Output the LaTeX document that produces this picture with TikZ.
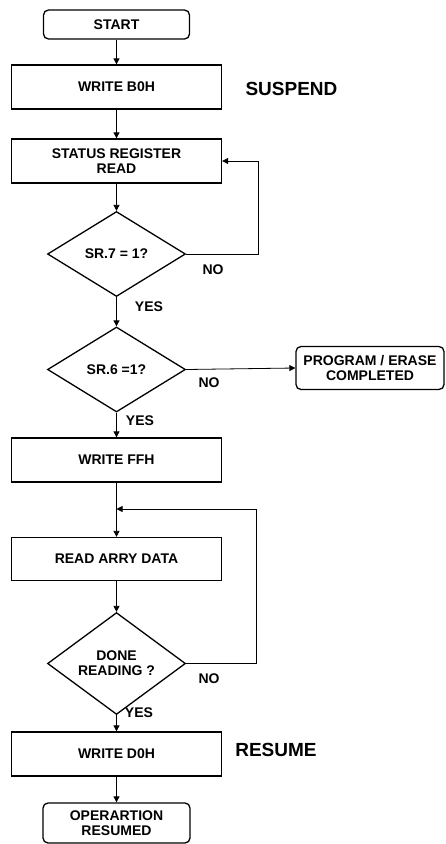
\documentclass[tikz,border=0pt]{standalone}
\usepackage{fontspec}
\setmainfont{Liberation Sans}
\usetikzlibrary{positioning}
\usetikzlibrary{arrows.meta}
\usetikzlibrary{shapes.geometric}

\begin{document}
\begin{tikzpicture}[x=1pt, y=-1pt,
    font=\fontsize{14}{15}\selectfont\bfseries,
    box/.style={draw, line width=1.3pt, minimum width=210pt, minimum height=44pt, align=center, inner sep=2pt},
    term/.style={draw, line width=1.3pt, rounded corners=5pt, align=center, inner sep=2pt},
    test/.style={draw, diamond, line width=1.3pt, minimum width=138pt, minimum height=85pt, inner sep=0pt, align=center},
    flow/.style={line width=0.8pt, -{Triangle[length=6pt, width=6pt]}},
    tag/.style={font=\fontsize{14}{15}\selectfont\bfseries},
    side/.style={font=\fontsize{19}{20}\selectfont\bfseries}]
    \useasboundingbox (0,0) rectangle (445,844);

    % main column
    \node[term, minimum width=146pt, minimum height=29pt] (start) at (116.5,24.5) {START};
    \node[box] (wb0) at (116.5,87) {WRITE B0H};
    \node[box] (status) at (116.5,161) {STATUS REGISTER\\READ};
    \node[test] (d1) at (116.5,254) {SR.7 = 1?};
    \node[test] (d2) at (116.5,369.5) {SR.6 =1?};
    \node[box] (wff) at (116.5,460) {WRITE FFH};
    \node[box, minimum height=43pt] (rad) at (116.5,559) {READ ARRY DATA};
    \node[test] (d3) at (116.5,663.5) {DONE\\READING ?};
    \node[box] (wd0) at (116.5,754) {WRITE D0H};
    \node[term, minimum width=147pt, minimum height=40pt] (resumed) at (116.5,823) {OPERARTION\\RESUMED};

    % side nodes
    \node[term, minimum width=148pt, minimum height=43pt] (pe) at (370,368) {PROGRAM / ERASE\\COMPLETED};
    \node[side] (suspend) at (291.5,89) {SUSPEND};
    \node[side] (resume) at (276,750) {RESUME};

    % branch labels
    \node[tag] (no1) at (213,270) {NO};
    \node[tag] (yes1) at (149,307) {YES};
    \node[tag] (no2) at (209,383) {NO};
    \node[tag] (yes2) at (140,421) {YES};
    \node[tag] (no3) at (209,679) {NO};
    \node[tag] (yes3) at (139,713) {YES};

    \coordinate (join) at (116.5,509);

    % connectors
    \draw[flow] (start) -- (wb0);
    \draw[flow] (wb0) -- (status);
    \draw[flow] (status) -- (d1);
    \draw[flow] (d1) -- (d2);
    \draw[flow] (d1.east) -- +(72,0) |- (status.east);
    \draw[flow] (d2.east) -- (pe.west);
    \draw[flow] (d2) -- (wff);
    \draw[flow] (wff) -- (rad);
    \draw[flow] (d3.east) -- +(70,0) |- (join);
    \draw[flow] (rad) -- (d3);
    \draw[flow] (d3) -- (wd0);
    \draw[flow] (wd0) -- (resumed);
\end{tikzpicture}
\end{document}
